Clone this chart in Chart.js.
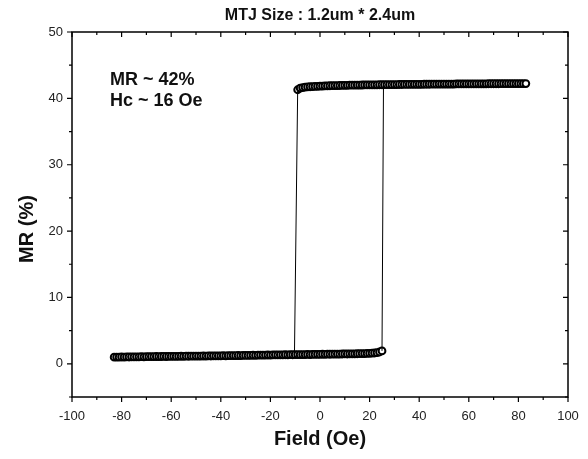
<!DOCTYPE html>
<html>
<head>
<meta charset="utf-8">
<script src="https://cdn.jsdelivr.net/npm/chart.js@4.4.1/dist/chart.umd.min.js"></script>
<style>
  html, body { margin: 0; padding: 0; background: #ffffff; }
  #wrap { width: 588px; height: 459px; position: relative; }
</style>
</head>
<body>
<div id="wrap"><canvas id="c" width="588" height="459"></canvas></div>
<script>
// ---------- DATA ----------
const chartTitle = "MTJ Size : 1.2um * 2.4um";
const xAxisTitle = "Field (Oe)";
const yAxisTitle = "MR (%)";
const noteLines = ["MR ~ 42%", "Hc ~ 16 Oe"];

const xTickValues = [-100, -80, -60, -40, -20, 0, 20, 40, 60, 80, 100];
const xMinorValues = [-90, -70, -50, -30, -10, 10, 30, 50, 70, 90];
const yTickValues = [0, 10, 20, 30, 40, 50];
const yMinorValues = [-5, 5, 15, 25, 35, 45];

// low-resistance branch (field, Oe)
const fieldLow = [
  -83,-82,-81,-80,-79,-78,-77,-76,-75,-74,
  -73,-72,-71,-70,-69,-68,-67,-66,-65,-64,
  -63,-62,-61,-60,-59,-58,-57,-56,-55,-54,
  -53,-52,-51,-50,-49,-48,-47,-46,-45,-44,
  -43,-42,-41,-40,-39,-38,-37,-36,-35,-34,
  -33,-32,-31,-30,-29,-28,-27,-26,-25,-24,
  -23,-22,-21,-20,-19,-18,-17,-16,-15,-14,
  -13,-12,-11,-10,-9,-8,-7,-6,-5,-4,
  -3,-2,-1,0,1,2,3,4,5,6,
  7,8,9,10,11,12,13,14,15,16,
  17,18,19,20,21,22,23,24,25
];
const mrLow = [
  1.00,1.02,1.00,1.03,1.02,1.04,1.03,1.05,1.04,1.06,
  1.05,1.07,1.06,1.08,1.07,1.09,1.08,1.10,1.09,1.10,
  1.11,1.10,1.12,1.11,1.13,1.12,1.13,1.14,1.13,1.15,
  1.14,1.16,1.15,1.16,1.17,1.16,1.18,1.17,1.19,1.18,
  1.20,1.19,1.21,1.20,1.22,1.21,1.23,1.22,1.24,1.23,
  1.25,1.24,1.26,1.27,1.26,1.28,1.29,1.28,1.30,1.31,
  1.30,1.32,1.33,1.32,1.34,1.35,1.34,1.36,1.35,1.37,
  1.36,1.38,1.37,1.38,1.39,1.38,1.40,1.39,1.41,1.40,
  1.42,1.41,1.43,1.42,1.44,1.43,1.45,1.44,1.46,1.45,
  1.47,1.46,1.48,1.49,1.48,1.50,1.51,1.50,1.52,1.53,
  1.54,1.55,1.56,1.58,1.60,1.63,1.68,1.78,1.95
];

// high-resistance branch (field, Oe)
const fieldHigh = [
  -9,-8,-7,-6,-5,-4,-3,-2,-1,0,
  1,2,3,4,5,6,7,8,9,10,
  11,12,13,14,15,16,17,18,19,20,
  21,22,23,24,25,26,27,28,29,30,
  31,32,33,34,35,36,37,38,39,40,
  41,42,43,44,45,46,47,48,49,50,
  51,52,53,54,55,56,57,58,59,60,
  61,62,63,64,65,66,67,68,69,70,
  71,72,73,74,75,76,77,78,79,80,
  81,82,83
];
const mrHigh = [
  41.30,41.55,41.62,41.68,41.72,41.75,41.78,41.80,41.82,41.84,
  41.85,41.87,41.88,41.90,41.91,41.92,41.93,41.94,41.95,41.96,
  41.97,41.98,41.98,41.99,42.00,42.00,42.01,42.02,42.02,42.03,
  42.03,42.04,42.04,42.05,42.05,42.06,42.06,42.07,42.07,42.08,
  42.08,42.09,42.09,42.10,42.10,42.10,42.11,42.11,42.12,42.12,
  42.12,42.13,42.13,42.13,42.14,42.14,42.14,42.15,42.15,42.15,
  42.16,42.16,42.16,42.16,42.17,42.17,42.17,42.17,42.18,42.18,
  42.18,42.18,42.19,42.19,42.19,42.19,42.19,42.20,42.20,42.20,
  42.20,42.20,42.21,42.21,42.21,42.21,42.21,42.22,42.22,42.22,
  42.22,42.22,42.23
];

// switching jumps
const jumpUpField = [25, 25.6];
const jumpUpMR = [1.95, 42.05];
const jumpDownField = [-9, -10.3];
const jumpDownMR = [41.30, 1.38];

// ---------- BUILD ----------
const toXY = (xs, ys) => xs.map((x, i) => ({ x: x, y: ys[i] }));
const FONT = "'Liberation Sans', Arial, Helvetica, sans-serif";

const frameAndText = {
  id: 'frameAndText',
  afterDatasetsDraw(chart) {
    const ctx = chart.ctx;
    const xs = chart.scales.x, ys = chart.scales.y;
    const a = chart.chartArea;
    ctx.save();
    ctx.strokeStyle = '#000';
    ctx.lineWidth = 1.5;
    ctx.strokeRect(a.left, a.top, a.right - a.left, a.bottom - a.top);
    ctx.lineWidth = 1.2;
    ctx.beginPath();
    xTickValues.forEach(v => {
      const p = xs.getPixelForValue(v);
      ctx.moveTo(p, a.bottom); ctx.lineTo(p, a.bottom + 5);
      ctx.moveTo(p, a.top); ctx.lineTo(p, a.top + 5);
    });
    xMinorValues.forEach(v => {
      const p = xs.getPixelForValue(v);
      ctx.moveTo(p, a.bottom); ctx.lineTo(p, a.bottom + 3);
      ctx.moveTo(p, a.top); ctx.lineTo(p, a.top + 3);
    });
    yTickValues.forEach(v => {
      const p = ys.getPixelForValue(v);
      ctx.moveTo(a.left, p); ctx.lineTo(a.left - 5, p);
      ctx.moveTo(a.right, p); ctx.lineTo(a.right - 5, p);
    });
    yMinorValues.forEach(v => {
      const p = ys.getPixelForValue(v);
      ctx.moveTo(a.left, p); ctx.lineTo(a.left - 3, p);
      ctx.moveTo(a.right, p); ctx.lineTo(a.right - 3, p);
    });
    ctx.stroke();

    ctx.fillStyle = '#111';
    ctx.textAlign = 'center';
    ctx.textBaseline = 'middle';
    ctx.font = 'bold 16px ' + FONT;
    ctx.fillText(chartTitle, (a.left + a.right) / 2, 16);

    ctx.textBaseline = 'alphabetic';
    ctx.textAlign = 'left';
    ctx.font = 'bold 18px ' + FONT;
    ctx.fillText(noteLines[0], 110, 85);
    ctx.fillText(noteLines[1], 110, 106);

    ctx.textAlign = 'center';
    ctx.textBaseline = 'middle';
    ctx.font = 'bold 20px ' + FONT;
    ctx.fillText(xAxisTitle, (a.left + a.right) / 2, 439);
    ctx.save();
    ctx.translate(27, 229);
    ctx.rotate(-Math.PI / 2);
    ctx.fillText(yAxisTitle, 0, 0);
    ctx.restore();
    ctx.restore();
  }
};

const pointStyle = {
  showLine: true,
  borderColor: '#000',
  borderWidth: 1,
  pointRadius: 3.4,
  pointBorderWidth: 2,
  pointBorderColor: '#000',
  pointBackgroundColor: '#fff',
  pointHoverRadius: 3.4,
  tension: 0
};

new Chart(document.getElementById('c'), {
  type: 'scatter',
  data: {
    datasets: [
      Object.assign({ label: 'jump up', data: toXY(jumpUpField, jumpUpMR) }, pointStyle, { pointRadius: 0, borderWidth: 1 }),
      Object.assign({ label: 'jump down', data: toXY(jumpDownField, jumpDownMR) }, pointStyle, { pointRadius: 0, borderWidth: 1 }),
      Object.assign({ label: 'low', data: toXY(fieldLow, mrLow) }, pointStyle),
      Object.assign({ label: 'high', data: toXY(fieldHigh, mrHigh) }, pointStyle)
    ]
  },
  options: {
    responsive: false,
    animation: false,
    devicePixelRatio: 1,
    layout: { padding: { top: 32, left: 0, right: 20, bottom: 0 } },
    plugins: {
      legend: { display: false },
      tooltip: { enabled: false },
      title: { display: false }
    },
    scales: {
      x: {
        type: 'linear',
        min: -100, max: 100,
        afterBuildTicks: s => { s.ticks = xTickValues.map(v => ({ value: v })); },
        afterFit: s => { s.height = 62; s.paddingRight = 0; s.paddingLeft = 0; },
        grid: { display: false, drawTicks: false },
        border: { display: false },
        ticks: { color: '#222', font: { family: FONT, size: 13 }, padding: 12, maxRotation: 0, autoSkip: false }
      },
      y: {
        type: 'linear',
        min: -5, max: 50,
        afterBuildTicks: s => { s.ticks = yTickValues.map(v => ({ value: v })); },
        afterFit: s => { s.width = 72; s.paddingTop = 0; s.paddingBottom = 0; },
        grid: { display: false, drawTicks: false },
        border: { display: false },
        ticks: { color: '#222', font: { family: FONT, size: 13 }, padding: 9 }
      }
    }
  },
  plugins: [frameAndText]
});
</script>
</body>
</html>
